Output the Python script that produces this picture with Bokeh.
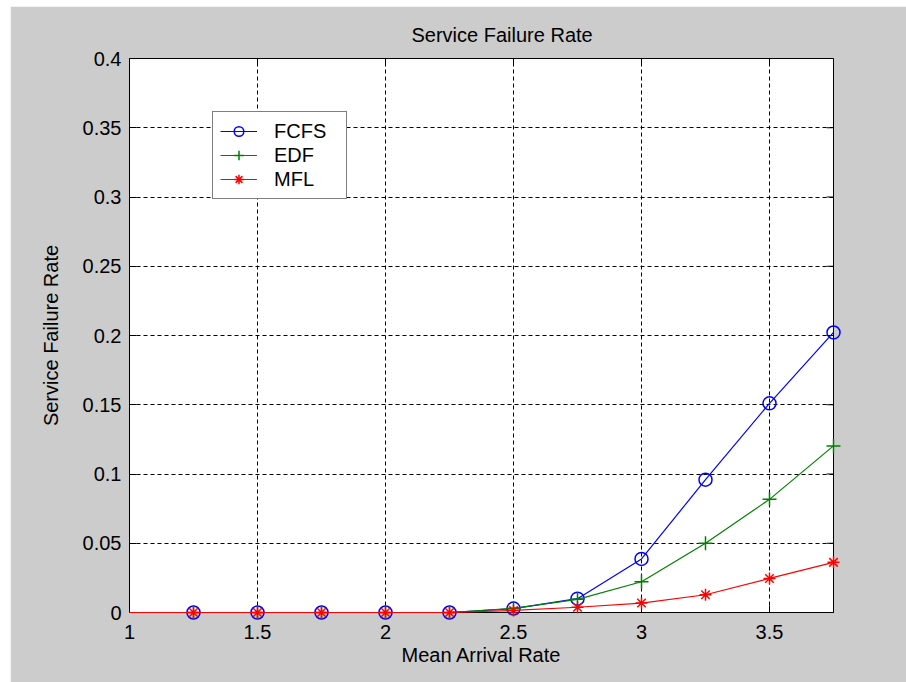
import math
from bokeh.plotting import figure
from bokeh.models import Range1d, FixedTicker, Legend, LegendItem, Title
from bokeh.embed import file_html
from bokeh.resources import INLINE

# ---- data ----
arrival_rate = [1.0, 1.25, 1.5, 1.75, 2.0, 2.25, 2.5, 2.75, 3.0, 3.25, 3.5, 3.75]
fcfs = [0.0, 0.0, 0.0, 0.0, 0.0, 0.0, 0.0028, 0.0100, 0.0387, 0.0959, 0.1510, 0.2022]
edf = [0.0, 0.0, 0.0, 0.0, 0.0, 0.0, 0.0030, 0.0095, 0.0222, 0.0500, 0.0817, 0.1203]
mfl = [0.0, 0.0, 0.0, 0.0, 0.0, 0.0, 0.0015, 0.0038, 0.0068, 0.0128, 0.0246, 0.0362]
series_names = ["FCFS", "EDF", "MFL"]
x_ticks = [1, 1.5, 2, 2.5, 3, 3.5]
x_tick_labels = ["1", "1.5", "2", "2.5", "3", "3.5"]
y_ticks = [0, 0.05, 0.1, 0.15, 0.2, 0.25, 0.3, 0.35, 0.4]
y_tick_labels = ["0", "0.05", "0.1", "0.15", "0.2", "0.25", "0.3", "0.35", "0.4"]
x_lim = (1, 3.75)
y_lim = (0, 0.4)

FONT = "Liberation Sans"
FS = "20px"
GRAY = "#CCCCCC"

p = figure(width=896, height=676, output_backend="svg", toolbar_location=None,
           x_range=Range1d(*x_lim), y_range=Range1d(*y_lim),
           min_border_left=119, min_border_right=73, min_border_top=52, min_border_bottom=70,
           background_fill_color="white", border_fill_color=GRAY)
p.margin = (6, 0, 0, 10)
p.outline_line_color = "black"
p.outline_line_width = 1

p.title = Title(text="Service Failure Rate", align="left", offset=282,
                text_font=FONT, text_font_size=FS, text_font_style="normal",
                text_color="#000000", standoff=22, vertical_align="top")

def style_axis(ax):
    ax.major_tick_in = 7
    ax.major_tick_out = 0
    ax.minor_tick_in = 0
    ax.minor_tick_out = 0
    ax.major_tick_line_color = "black"
    ax.axis_line_color = "black"
    ax.major_label_text_font = FONT
    ax.major_label_text_font_size = FS
    ax.major_label_text_color = "#000000"
    ax.axis_label_text_font = FONT
    ax.axis_label_text_font_size = FS
    ax.axis_label_text_font_style = "normal"
    ax.axis_label_text_color = "#000000"

xt = FixedTicker(ticks=x_ticks)
yt = FixedTicker(ticks=y_ticks)

xa = p.xaxis[0]
xa.ticker = xt
xa.major_label_overrides = dict(zip(x_ticks, x_tick_labels))
xa.axis_label = "Mean Arrival Rate"
style_axis(xa)
xa.major_label_standoff = 12
xa.axis_label_standoff = 2

ya = p.yaxis[0]
ya.ticker = yt
ya.major_label_overrides = dict(zip(y_ticks, y_tick_labels))
ya.axis_label = "Service Failure Rate"
style_axis(ya)
ya.major_label_standoff = 8
ya.axis_label_standoff = 18

p.xgrid.ticker = xt
p.ygrid.ticker = yt
for g in (p.xgrid[0], p.ygrid[0]):
    g.grid_line_color = "black"
    g.grid_line_dash = "4 3"
    g.grid_line_width = 1
    g.grid_line_alpha = 1.0

# inward tick marks on the top and right edges of the box (half of each dash is clipped by the frame)
p.scatter(x_ticks, [y_lim[1]] * len(x_ticks), marker="dash", angle=math.pi / 2, size=14,
          line_color="black", line_width=1)
p.scatter([x_lim[1]] * len(y_ticks), y_ticks, marker="dash", size=14,
          line_color="black", line_width=1)

colors = ["#0000FF", "#008000", "#FF0000"]
markers = ["circle", "cross", "asterisk"]
sizes = [13, 14, 12]
items = []
for name, ys, c, m, s in zip(series_names, [fcfs, edf, mfl], colors, markers, sizes):
    lr = p.line(arrival_rate, ys, line_color=c, line_width=1.2, level="overlay")
    if m == "circle":
        sr = p.scatter(arrival_rate[1:], ys[1:], marker=m, size=s, line_color=c,
                       fill_color=None, line_width=1.5, level="overlay")
    else:
        sr = p.scatter(arrival_rate[1:], ys[1:], marker=m, size=s, line_color=c,
                       line_width=1.5, level="overlay")
    items.append(LegendItem(label=name, renderers=[lr, sr]))

legend = Legend(items=items, location=(83, 413),
                label_text_font=FONT, label_text_font_size=FS, label_text_color="#000000",
                glyph_width=37, glyph_height=24, label_height=24, label_width=65, spacing=0,
                padding=7, margin=0, label_standoff=17,
                border_line_color="black", border_line_width=1,
                background_fill_color="white", background_fill_alpha=1.0)
p.add_layout(legend, "center")

open("out.html", "w").write(file_html(p, INLINE))
